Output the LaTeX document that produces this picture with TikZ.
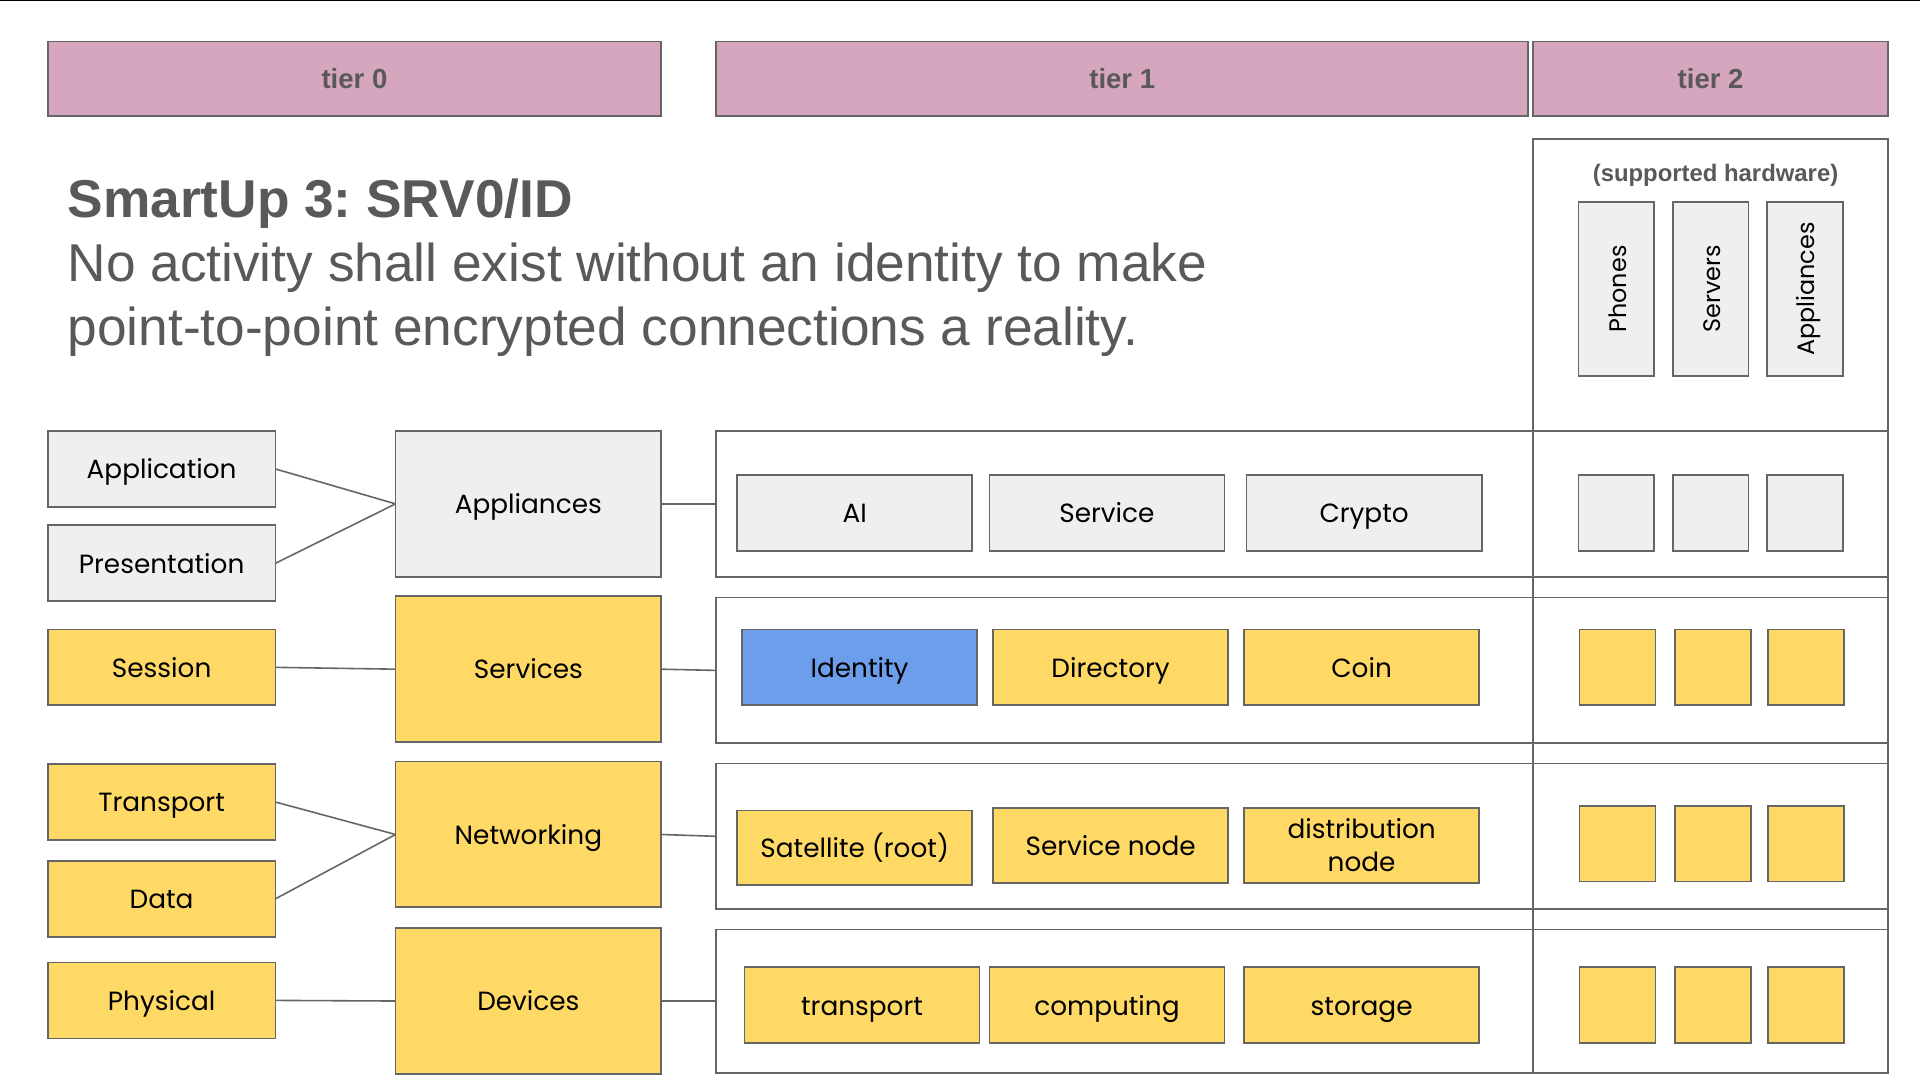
\documentclass[tikz,border=0pt]{standalone}
\usepackage{fontspec}
\setmainfont{Liberation Sans}
\newfontfamily\boxfont{Poppins}
\frenchspacing
\definecolor{pinkf}{HTML}{D5A6BD}
\definecolor{grayf}{HTML}{EFEFEF}
\definecolor{yelf}{HTML}{FFD966}
\definecolor{bluef}{HTML}{6D9EEB}
\definecolor{bord}{HTML}{666666}
\definecolor{tgray}{HTML}{595959}
\tikzset{
  base/.style={draw=bord, line width=1.4pt, inner sep=0pt, outer sep=0pt, text=black,
    font=\boxfont\fontsize{21.5}{27}\selectfont, align=center,
    text height=20pt, text depth=4pt},
  gbox/.style={base, fill=grayf},
  ybox/.style={base, fill=yelf},
  bbox/.style={base, fill=bluef},
  tierbox/.style={base, fill=pinkf, text=tgray, font=\bfseries\fontsize{22.5}{27}\selectfont,
    text height=20pt, text depth=4pt},
  hwbox/.style={base, fill=grayf, rotate=90, font=\boxfont\fontsize{19.5}{24}\selectfont},
  rowbox/.style={draw=bord, line width=1.4pt, inner sep=0pt, outer sep=0pt},
  conn/.style={draw=bord, line width=1.3pt},
  lw/.style={minimum width=186pt, minimum height=62pt},
  mw/.style={minimum width=217pt, minimum height=119pt},
  iw/.style={minimum width=192pt, minimum height=62pt},
  sw/.style={minimum width=62pt, minimum height=62pt},
  twoline/.style={text height={}, text depth={}},
}
\begin{document}
\begin{tikzpicture}[x=1pt,y=-1pt]
\useasboundingbox (0,0) rectangle (1568,882);
\fill[white] (0,0) rectangle (1568,882);
\coordinate (tl) at (0,0.6);
\coordinate (tr) at (1568,0.6);
\draw[line width=1.2pt, black] (tl) -- (tr);

% tier headers
\node[tierbox, minimum width=501pt, minimum height=61pt] (t0) at (289.5,64.5) {tier 0};
\node[tierbox, minimum width=663pt, minimum height=61pt] (t1) at (916.5,64.5) {tier 1};
\node[tierbox, minimum width=290pt, minimum height=61pt] (t2) at (1397,64.5) {tier 2};

% title
\node[anchor=base west, inner sep=0pt, text=tgray, font=\bfseries\fontsize{43.5}{52}\selectfont] (title) at (55,178) {SmartUp 3: SRV0/ID};
\node[anchor=base west, inner sep=0pt, text=tgray, font=\fontsize{43.5}{52}\selectfont] (sub1) at (55,230) {No activity shall exist without an identity to make};
\node[anchor=base west, inner sep=0pt, text=tgray, font=\fontsize{43.5}{52}\selectfont] (sub2) at (55,282) {point-to-point encrypted connections a reality.};

% row containers
\node[rowbox, minimum width=957pt, minimum height=119pt] (r1) at (1063.5,411.5) {};
\node[rowbox, minimum width=957pt, minimum height=119pt] (r2) at (1063.5,547.5) {};
\node[rowbox, minimum width=957pt, minimum height=119pt] (r3) at (1063.5,683) {};
\node[rowbox, minimum width=957pt, minimum height=117pt] (r4) at (1063.5,817.5) {};

% tier 2 column
\node[rowbox, minimum width=290pt, minimum height=763pt] (col) at (1397,495) {};
\node[anchor=base, inner sep=0pt, text=tgray, font=\bfseries\fontsize{19.5}{24}\selectfont] (hwlabel) at (1401,148) {(supported hardware)};
\node[hwbox, minimum width=142pt, minimum height=62pt] (phones) at (1320,236) {Phones};
\node[hwbox, minimum width=142pt, minimum height=62pt] (servers) at (1397,236) {Servers};
\node[hwbox, minimum width=142pt, minimum height=62pt] (happl) at (1474,236) {Appliances};

% left column
\node[gbox, lw] (app) at (132,383) {Application};
\node[gbox, lw] (pres) at (132,460) {Presentation};
\node[ybox, lw] (sess) at (132,545) {Session};
\node[ybox, lw] (trans) at (132,655) {Transport};
\node[ybox, lw] (data) at (132,734) {Data};
\node[ybox, lw] (phys) at (132,817) {Physical};

% middle column
\node[gbox, mw] (appl) at (431.5,411.5) {Appliances};
\node[ybox, mw] (serv) at (431.5,546.5) {Services};
\node[ybox, mw] (netw) at (431.5,681.5) {Networking};
\node[ybox, mw] (dev) at (431.5,817.5) {Devices};

% tier 1 boxes
\node[gbox, iw] (ai) at (698,419) {AI};
\node[gbox, iw] (service) at (904,419) {Service};
\node[gbox, iw] (crypto) at (1114,419) {Crypto};
\node[bbox, iw] (ident) at (702,545) {Identity};
\node[ybox, iw] (dir) at (907,545) {Directory};
\node[ybox, iw] (coin) at (1112,545) {Coin};
\node[ybox, iw, minimum height=61pt] (sat) at (698,692.5) {Satellite (root)};
\node[ybox, iw, minimum height=61pt] (snode) at (907,690.5) {Service node};
\node[ybox, iw, minimum height=61pt, twoline] (dnode) at (1112,690.5) {distribution\\node};
\node[ybox, iw] (dtrans) at (704,821) {transport};
\node[ybox, iw] (comp) at (904,821) {computing};
\node[ybox, iw] (stor) at (1112,821) {storage};

% tier 2 small boxes
\node[gbox, sw] (a1) at (1320,419) {};
\node[gbox, sw] (a2) at (1397,419) {};
\node[gbox, sw] (a3) at (1474,419) {};
\node[ybox, sw] (b1) at (1321,545) {};
\node[ybox, sw] (b2) at (1399,545) {};
\node[ybox, sw] (b3) at (1475,545) {};
\node[ybox, sw] (c1) at (1321,689) {};
\node[ybox, sw] (c2) at (1399,689) {};
\node[ybox, sw] (c3) at (1475,689) {};
\node[ybox, sw] (d1) at (1321,820.5) {};
\node[ybox, sw] (d2) at (1399,820.5) {};
\node[ybox, sw] (d3) at (1475,820.5) {};

% connectors
\draw[conn] (app.east) -- (appl.west);
\draw[conn] (pres.east) -- (appl.west);
\draw[conn] (sess.east) -- (serv.west);
\draw[conn] (trans.east) -- (netw.west);
\draw[conn] (data.east) -- (netw.west);
\draw[conn] (phys.east) -- (dev.west);
\draw[conn] (appl.east) -- (r1.west);
\draw[conn] (serv.east) -- (r2.west);
\draw[conn] (netw.east) -- (r3.west);
\draw[conn] (dev.east) -- (r4.west);
\end{tikzpicture}
\end{document}
